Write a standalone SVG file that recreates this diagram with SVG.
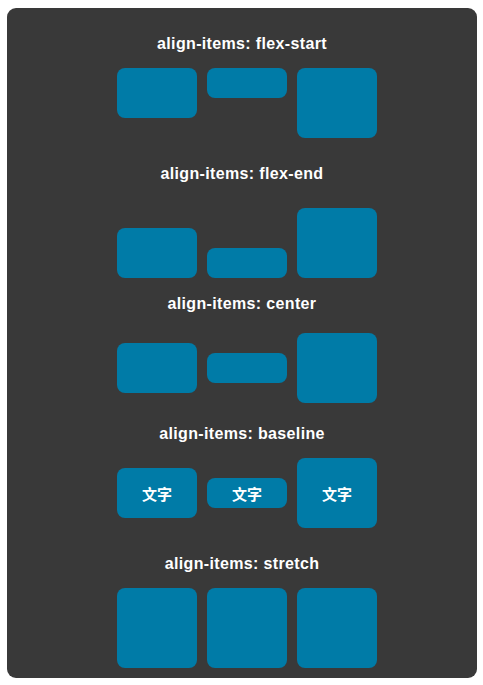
<svg xmlns="http://www.w3.org/2000/svg" width="483" height="685" viewBox="0 0 483 685">
<style>
.t{font-family:"Liberation Sans","Noto Sans CJK SC",sans-serif;font-weight:bold;font-size:16px;letter-spacing:0.35px;fill:#ffffff;text-anchor:middle}
.b{fill:#007ba7}
.c{font-family:"Noto Sans CJK SC",sans-serif;font-weight:bold;font-size:15px;fill:#ffffff;text-anchor:middle;dominant-baseline:central}
</style>
<rect width="483" height="685" fill="#ffffff"/>
<rect x="7" y="8" width="470" height="670" rx="9" fill="#393939"/>
<g id="row-flex-start">
<text class="t" x="242" y="49">align-items: flex-start</text>
<rect class="b" x="117" y="68" width="80" height="50" rx="8"/>
<rect class="b" x="207" y="68" width="80" height="30" rx="8"/>
<rect class="b" x="297" y="68" width="80" height="70" rx="8"/>
</g>
<g id="row-flex-end">
<text class="t" x="242" y="179">align-items: flex-end</text>
<rect class="b" x="117" y="228" width="80" height="50" rx="8"/>
<rect class="b" x="207" y="248" width="80" height="30" rx="8"/>
<rect class="b" x="297" y="208" width="80" height="70" rx="8"/>
</g>
<g id="row-center">
<text class="t" x="242" y="309">align-items: center</text>
<rect class="b" x="117" y="343" width="80" height="50" rx="8"/>
<rect class="b" x="207" y="353" width="80" height="30" rx="8"/>
<rect class="b" x="297" y="333" width="80" height="70" rx="8"/>
</g>
<g id="row-baseline">
<text class="t" x="242" y="439">align-items: baseline</text>
<rect class="b" x="117" y="468" width="80" height="50" rx="8"/>
<text class="c" x="157" y="493">文字</text>
<rect class="b" x="207" y="478" width="80" height="30" rx="8"/>
<text class="c" x="247" y="493">文字</text>
<rect class="b" x="297" y="458" width="80" height="70" rx="8"/>
<text class="c" x="337" y="493">文字</text>
</g>
<g id="row-stretch">
<text class="t" x="242" y="569">align-items: stretch</text>
<rect class="b" x="117" y="588" width="80" height="80" rx="8"/>
<rect class="b" x="207" y="588" width="80" height="80" rx="8"/>
<rect class="b" x="297" y="588" width="80" height="80" rx="8"/>
</g>
<g id="connectors"></g>
</svg>
